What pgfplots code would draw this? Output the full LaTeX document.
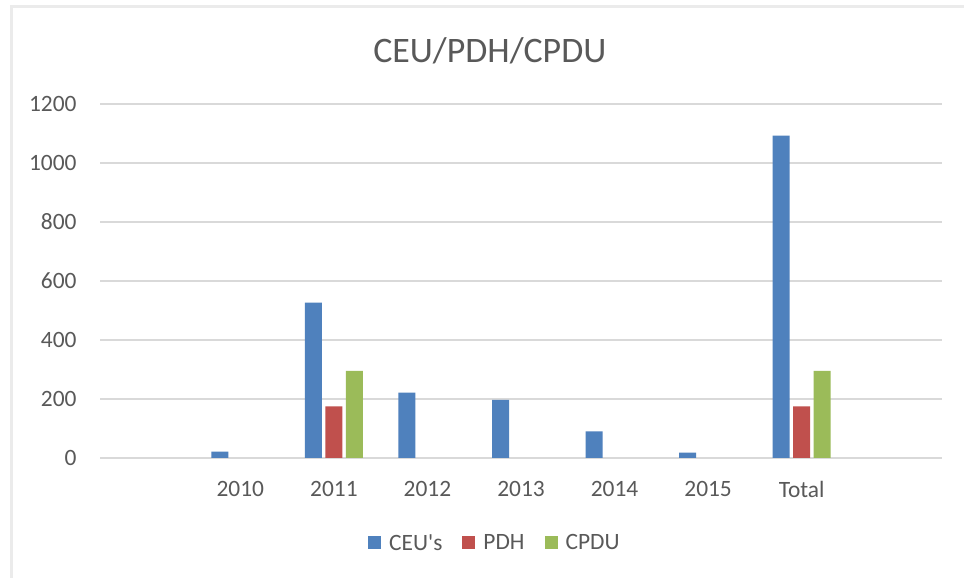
\documentclass[border=0pt]{standalone}
\usepackage{pgfplots}
\pgfplotsset{compat=1.18}
\usepackage{fontspec}
\setmainfont{Carlito}
\definecolor{ceu}{HTML}{4F81BD}
\definecolor{pdh}{HTML}{C0504D}
\definecolor{cpdu}{HTML}{9BBB59}
\definecolor{txt}{HTML}{595959}
\definecolor{gridgray}{HTML}{D9D9D9}
\definecolor{framegray}{HTML}{EBEBEB}
\begin{document}
\begin{tikzpicture}[x=1bp,y=1bp]
\useasboundingbox (0,0) rectangle (964,578);
\fill[white] (0,0) rectangle (964,578);
\draw[framegray, line width=3bp] (11,0) -- (11,571) -- (964,571);
\begin{axis}[
  at={(100bp,120bp)}, anchor=south west,
  scale only axis, width=842bp, height=354bp,
  ybar=3.5bp, bar width=17bp,
  xmin=-1.5, xmax=7.5, ymin=0, ymax=1200,
  xtick={0,1,2,3,4,5,6},
  xticklabels={2010,2011,2012,2013,2014,2015,Total},
  ytick={0,200,...,1200},
  axis line style={draw=none},
  major tick length=0pt,
  xmajorgrids=false,
  ymajorgrids=true, grid style={draw=gridgray, line width=1.5bp},
  tick label style={font=\fontsize{23.5}{27}\selectfont, text=txt},
  /pgf/number format/assume math mode=true,
  /pgf/number format/1000 sep={},
  xticklabel style={yshift=-20bp},
  yticklabel style={xshift=-20bp},
  legend columns=3,
  legend style={at={(0.469,-0.24)}, anchor=center, draw=none, fill=none,
    font=\fontsize{23.5}{27}\selectfont, text=txt,
    /tikz/every odd column/.append style={column sep=6bp},
    /tikz/every even column/.append style={column sep=18bp}},
  legend cell align=left,
  legend image code/.code={\fill[#1] (0bp,-6bp) rectangle (13bp,7bp);},
  clip=false,
]
\addplot[fill=ceu, draw=none] coordinates {(0,22) (1,527) (2,222) (3,197) (4,90) (5,18) (6,1093)};
\addplot[fill=pdh, draw=none] coordinates {(1,175) (6,175)};
\addplot[fill=cpdu, draw=none] coordinates {(1,295) (6,295)};
\legend{CEU\textquotesingle s,PDH,CPDU}
\node[font=\fontsize{36}{42}\selectfont, text=txt] at (rel axis cs:0.463,1.15) {CEU/PDH/CPDU};
\end{axis}
\end{tikzpicture}
\end{document}
